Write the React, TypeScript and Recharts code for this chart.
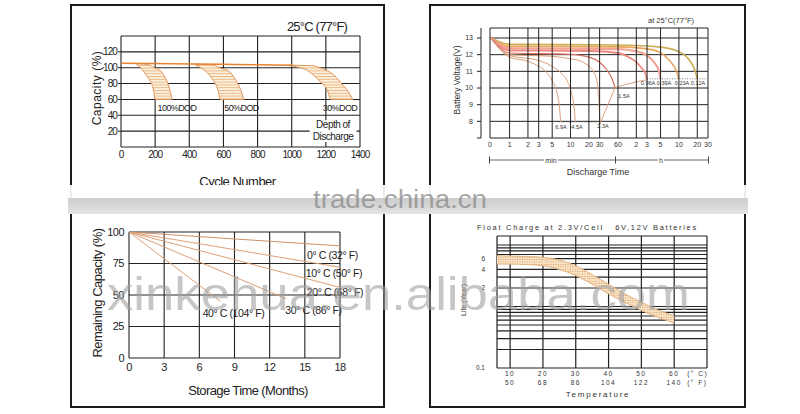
import React from 'react';
import { ComposedChart, Area, Line, XAxis, YAxis, CartesianGrid, ReferenceArea } from 'recharts';

// ---- chart 1: capacity vs cycle number ----
const cycleTicks = [0, 200, 400, 600, 800, 1000, 1200, 1400];
const capacityTicks = [20, 40, 60, 80, 100, 120];
const capacityGrid = [0, 20, 40, 60, 80, 100, 120, 140];
const topCapacity = [
  { cycle: 0, cap: 105.5 }, { cycle: 300, cap: 105 }, { cycle: 600, cap: 104.4 },
  { cycle: 800, cap: 103.8 }, { cycle: 1000, cap: 103 },
];
const dod100 = [
  { cycle: 90, range: [104.5, 105] }, { cycle: 110, range: [101, 105] }, { cycle: 130, range: [96, 104.8] },
  { cycle: 150, range: [90, 104.3] }, { cycle: 171, range: [83, 103] }, { cycle: 190, range: [72, 100.5] },
  { cycle: 200, range: [60, 99.5] }, { cycle: 220, range: [60, 98] }, { cycle: 240, range: [60, 94] },
  { cycle: 260, range: [60, 87] }, { cycle: 284, range: [60, 74] }, { cycle: 298, range: [60, 60] },
];
const dod50 = [
  { cycle: 430, range: [104.3, 104.6] }, { cycle: 470, range: [99.5, 104.2] }, { cycle: 504, range: [94, 104] },
  { cycle: 543, range: [83, 103.5] }, { cycle: 567, range: [72.5, 101] }, { cycle: 582, range: [60, 99.5] },
  { cycle: 622, range: [60, 97] }, { cycle: 671, range: [60, 85] }, { cycle: 700, range: [60, 72.5] },
  { cycle: 720, range: [60, 60] },
];
const dod30 = [
  { cycle: 980, range: [103, 103.3] }, { cycle: 1040, range: [100.5, 103] }, { cycle: 1092, range: [96.5, 102.8] },
  { cycle: 1131, range: [90, 102.3] }, { cycle: 1171, range: [81.5, 99.5] }, { cycle: 1210, range: [71, 96] },
  { cycle: 1229, range: [60, 93.8] }, { cycle: 1260, range: [60, 88] }, { cycle: 1288, range: [60, 81] },
  { cycle: 1337, range: [60, 68] }, { cycle: 1357, range: [60, 60] },
];

// ---- chart 2: discharge curves ----
const timeTicks = [0.477, 1, 2, 3, 5, 10, 20, 30, 60, 120, 180, 300, 600, 1200, 1800];
const voltTicks = [7, 8, 9, 10, 11, 12, 13];
const voltGrid = [7, 8, 9, 10, 11, 12, 13, 13.6];
const amp69 = [{ t: 0.477, v: 13.05 }, { t: 1, v: 11.85 }, { t: 2, v: 11.6 }, { t: 3, v: 11.3 }, { t: 4, v: 10.95 }, { t: 5, v: 10.45 }, { t: 6, v: 9.7 }, { t: 6.6, v: 8.8 }, { t: 6.9, v: 7.95 }];
const amp45 = [{ t: 0.477, v: 13.05 }, { t: 1, v: 11.95 }, { t: 3, v: 11.65 }, { t: 5, v: 11.3 }, { t: 7, v: 10.9 }, { t: 9, v: 10.35 }, { t: 10.5, v: 9.6 }, { t: 11.5, v: 8.8 }, { t: 12, v: 7.95 }];
const amp23 = [{ t: 0.477, v: 13.05 }, { t: 1, v: 12.0 }, { t: 5, v: 11.9 }, { t: 10, v: 11.75 }, { t: 15, v: 11.6 }, { t: 20, v: 11.3 }, { t: 24, v: 10.95 }, { t: 27, v: 10.45 }, { t: 29, v: 9.3 }, { t: 30.6, v: 7.85 }];
const amp15 = [{ t: 0.477, v: 13.05 }, { t: 1, v: 12.1 }, { t: 10, v: 12.02 }, { t: 20, v: 11.85 }, { t: 30, v: 11.55 }, { t: 40, v: 11.05 }, { t: 48, v: 10.55 }, { t: 54, v: 10.0 }];
const amp096 = [{ t: 0.477, v: 13.05 }, { t: 1, v: 12.25 }, { t: 20, v: 12.22 }, { t: 60, v: 12.1 }, { t: 90, v: 11.85 }, { t: 120, v: 11.55 }, { t: 150, v: 11.15 }, { t: 170, v: 10.85 }, { t: 180, v: 10.5 }];
const amp039 = [{ t: 0.477, v: 13.05 }, { t: 1, v: 12.38 }, { t: 60, v: 12.33 }, { t: 120, v: 12.2 }, { t: 180, v: 11.95 }, { t: 240, v: 11.5 }, { t: 280, v: 11.05 }, { t: 300, v: 10.55 }];
const amp023 = [{ t: 0.477, v: 13.05 }, { t: 1, v: 12.5 }, { t: 60, v: 12.47 }, { t: 180, v: 12.35 }, { t: 300, v: 12.12 }, { t: 420, v: 11.65 }, { t: 540, v: 11.05 }, { t: 600, v: 10.55 }];
const amp012 = [{ t: 0.477, v: 13.05 }, { t: 1, v: 12.62 }, { t: 60, v: 12.58 }, { t: 300, v: 12.45 }, { t: 600, v: 12.18 }, { t: 900, v: 11.65 }, { t: 1100, v: 11.05 }, { t: 1200, v: 10.55 }];
const finalVoltage = [{ t: 30.6, v: 7.85 }, { t: 35, v: 8.4 }, { t: 40, v: 8.9 }, { t: 47, v: 9.5 }, { t: 54, v: 10.0 }, { t: 70, v: 10.15 }, { t: 100, v: 10.3 }, { t: 140, v: 10.42 }, { t: 180, v: 10.5 }];
const cutoffHigh = [{ t: 180, v: 10.55 }, { t: 1750, v: 10.55 }];
const cutoffLow = [{ t: 6.4, v: 7.97 }, { t: 30, v: 7.97 }];

// ---- chart 3: storage ----
const storageTicks = [0, 3, 6, 9, 12, 15, 18];
const remainingTicks = [0, 25, 50, 75, 100];
const store0 = [{ m: 0, c: 100 }, { m: 18, c: 89 }];
const store10 = [{ m: 0, c: 100 }, { m: 18, c: 72 }];
const store20 = [{ m: 0, c: 100 }, { m: 18, c: 56 }];
const store30 = [{ m: 0, c: 100 }, { m: 13.4, c: 47 }];
const store40 = [{ m: 0, c: 100 }, { m: 7.8, c: 45 }];

// ---- chart 4: float life ----
const tempTicksC = [10, 20, 30, 40, 50, 60];
const tempTicksF = [50, 68, 86, 104, 122, 140];
const tempGrid = [6, 10, 20, 30, 40, 50, 60, 70];
const lifeTicks = [0.1, 2, 4, 6];
const lifeGrid = [0.1, 0.2, 0.3, 0.4, 0.5, 0.6, 0.7, 0.8, 0.9, 1, 2, 3, 4, 5, 6, 7, 8, 9, 10, 14];
const lifeBand = [
  { temp: 6, range: [4.9, 6.7] }, { temp: 10, range: [4.9, 6.6] }, { temp: 15, range: [4.8, 6.5] },
  { temp: 20, range: [4.6, 6.3] }, { temp: 25, range: [4.0, 5.7] }, { temp: 30, range: [3.2, 4.6] },
  { temp: 35, range: [2.3, 3.3] }, { temp: 40, range: [1.6, 2.3] }, { temp: 45, range: [1.17, 1.6] },
  { temp: 50, range: [0.86, 1.17] }, { temp: 55, range: [0.67, 0.88] }, { temp: 60, range: [0.54, 0.71] },
];

const ink = '#222';
const PLOT2_H = 110; // plot height of the discharge chart (180 - 18 - 30 - 22)

const T = ({ x, y, s, ls, rot, color, children }: any) => (
  <div
    style={{
      position: 'absolute', left: x, top: y, fontSize: s, lineHeight: 1, whiteSpace: 'nowrap',
      letterSpacing: ls, color: color || ink,
      transform: `translate(-50%,-50%)${rot ? ' rotate(-90deg)' : ''}`,
    }}
  >
    {children}
  </div>
);

const fmtTime = (v: number) => (v < 1 ? '0' : v >= 120 ? String(v / 60) : String(v));

// time tick: label plus the vertical grid line at the same (log-scaled) x
const TimeTick = (props: any) => {
  const { x, y, payload } = props;
  const base = y - 3;
  return (
    <g>
      <line x1={x} y1={base - PLOT2_H} x2={x} y2={base} stroke={ink} strokeWidth={1} />
      <text x={x} y={y + 5.5} textAnchor="middle" fontSize={7} fill="#333">{fmtTime(payload.value)}</text>
    </g>
  );
};

const TempTick = (props: any) => {
  const { x, y, payload } = props;
  const f = tempTicksF[tempTicksC.indexOf(payload.value)];
  const st = { fontSize: 6.5, letterSpacing: 1.5, fill: '#333' };
  return (
    <g>
      <text x={x} y={y + 8.3} textAnchor="middle" {...st}>{payload.value}</text>
      <text x={x} y={y + 17.3} textAnchor="middle" {...st}>{f}</text>
      {payload.value === 60 && (
        <>
          <text x={x + 13} y={y + 8.3} {...st}>(° C)</text>
          <text x={x + 13} y={y + 17.3} {...st}>(° F)</text>
        </>
      )}
    </g>
  );
};

function CycleChart() {
  const tick = { fontSize: 10, fill: ink, letterSpacing: -0.9 };
  return (
    <div style={{ position: 'absolute', left: 80, top: 20 }}>
      <ComposedChart width={300} height={175} margin={{ top: 16, right: 20, bottom: 0, left: 0 }}>
        <defs>
          <pattern id="hatch" width="4" height="2.8" patternUnits="userSpaceOnUse">
            <rect width="4" height="2.8" fill="#fdf0dc" />
            <line x1="0" y1="0.4" x2="4" y2="0.4" stroke="#e2a56a" strokeWidth="0.8" />
          </pattern>
        </defs>
        <CartesianGrid stroke={ink} strokeWidth={1.1} horizontalValues={capacityGrid} verticalValues={cycleTicks} />
        <XAxis type="number" dataKey="cycle" domain={[0, 1400]} ticks={cycleTicks} interval={0} allowDataOverflow
          axisLine={false} tickLine={false} tickSize={2} tickMargin={2} height={48} tick={tick} />
        <YAxis type="number" domain={[0, 140]} ticks={capacityTicks} interval={0} allowDataOverflow
          axisLine={false} tickLine={{ stroke: ink }} tickSize={3} tickMargin={1} width={41} tick={tick} />
        <ReferenceArea x1={1105} x2={1380} y1={6.3} y2={34} fill="#fff" fillOpacity={1} stroke="none" />
        <Area data={dod100} dataKey="range" type="monotone" fill="url(#hatch)" fillOpacity={1} stroke="#e0955a" strokeWidth={1} isAnimationActive={false} />
        <Area data={dod50} dataKey="range" type="monotone" fill="url(#hatch)" fillOpacity={1} stroke="#e0955a" strokeWidth={1} isAnimationActive={false} />
        <Area data={dod30} dataKey="range" type="monotone" fill="url(#hatch)" fillOpacity={1} stroke="#e0955a" strokeWidth={1} isAnimationActive={false} />
        <Line data={topCapacity} dataKey="cap" type="monotone" stroke="#e8822e" strokeWidth={1.5} dot={false} isAnimationActive={false} />
      </ComposedChart>
    </div>
  );
}

function DischargeChart() {
  const line = (data: any[], color: string, w: number) => (
    <Line data={data} dataKey="v" xAxisId="main" yAxisId="v" type="monotone" stroke={color} strokeWidth={w} dot={false} isAnimationActive={false} />
  );
  return (
    <div style={{ position: 'absolute', left: 430, top: 10 }}>
      <ComposedChart width={300} height={180} margin={{ top: 18, right: 22, bottom: 30, left: 0 }}>
        <CartesianGrid xAxisId="main" yAxisId="v" stroke={ink} strokeWidth={1} vertical={false} horizontalValues={voltGrid} />
        <XAxis xAxisId="main" type="number" dataKey="t" scale="log" domain={[0.477, 1800]} ticks={timeTicks} interval={0} allowDataOverflow
          axisLine={false} tickLine={false} tickSize={2} tickMargin={1} height={22} tick={<TimeTick />} />
        <YAxis yAxisId="gap" type="number" domain={[7, 13.6]} width={9} axisLine={false} tickLine={false} tick={false} />
        <YAxis yAxisId="v" type="number" domain={[7, 13.6]} ticks={voltTicks} interval={0} allowDataOverflow width={51}
          axisLine={{ stroke: ink }} tickLine={{ stroke: ink }} tickSize={4} tickMargin={4}
          tickFormatter={(v: number) => (v === 7 ? '' : String(v))} tick={{ fontSize: 7, fill: '#333' }} />
        {line(amp012, '#c9ad56', 1.6)}
        {line(amp023, '#e9a65d', 1.6)}
        {line(amp039, '#f4a596', 2.2)}
        {line(amp096, '#ec8a80', 1.8)}
        {line(amp15, '#d9725f', 1.2)}
        {line(amp23, '#d9a07c', 1)}
        {line(amp45, '#d9a07c', 1)}
        {line(amp69, '#d9a07c', 1)}
        {line(finalVoltage, '#d9a07c', 1)}
        <Line data={cutoffHigh} dataKey="v" xAxisId="main" yAxisId="v" stroke="#555" strokeWidth={0.8} strokeDasharray="1 1.5" dot={false} isAnimationActive={false} />
        <Line data={cutoffLow} dataKey="v" xAxisId="main" yAxisId="v" stroke="#555" strokeWidth={0.8} strokeDasharray="1 1.5" dot={false} isAnimationActive={false} />
      </ComposedChart>
    </div>
  );
}

function StorageChart() {
  const tick = { fontSize: 11, fill: ink, letterSpacing: -0.5 };
  const line = (data: any[], color: string) => (
    <Line data={data} dataKey="c" type="linear" stroke={color} strokeWidth={1} dot={false} isAnimationActive={false} />
  );
  return (
    <div style={{ position: 'absolute', left: 80, top: 222 }}>
      <ComposedChart width={300} height={185} margin={{ top: 10, right: 40, bottom: 0, left: 0 }}>
        <CartesianGrid stroke={ink} strokeWidth={1.1} horizontalValues={remainingTicks} verticalValues={storageTicks} />
        <XAxis type="number" dataKey="m" domain={[0, 18]} ticks={storageTicks} interval={0} allowDataOverflow
          axisLine={false} tickLine={false} tickSize={0} tickMargin={5} height={49} tick={tick} />
        <YAxis type="number" domain={[0, 100]} ticks={remainingTicks} interval={0} allowDataOverflow
          axisLine={false} tickLine={false} tickSize={0} tickMargin={5} width={49} tick={tick} />
        {line(store0, '#cf9068')}
        {line(store10, '#dc9f78')}
        {line(store20, '#dc9f78')}
        {line(store30, '#dc9f78')}
        {line(store40, '#dc9f78')}
      </ComposedChart>
    </div>
  );
}

function LifeChart() {
  return (
    <div style={{ position: 'absolute', left: 430, top: 220 }}>
      <ComposedChart width={300} height={185} margin={{ top: 16, right: 23, bottom: 0, left: 0 }}>
        <defs>
          <pattern id="dots" width="2.4" height="2.4" patternUnits="userSpaceOnUse">
            <rect width="2.4" height="2.4" fill="#fbe6c8" />
            <circle cx="1.2" cy="1.2" r="0.65" fill="#d49a66" />
          </pattern>
        </defs>
        <CartesianGrid stroke={ink} strokeWidth={1.2} horizontalValues={lifeGrid} verticalValues={tempGrid} />
        <XAxis type="number" dataKey="temp" domain={[6, 70]} ticks={tempTicksC} interval={0} allowDataOverflow
          axisLine={false} tickLine={false} tickSize={0} tickMargin={0} height={37} tick={<TempTick />} />
        <YAxis type="number" scale="log" domain={[0.1, 14]} ticks={lifeTicks} interval={0} allowDataOverflow
          axisLine={false} tickLine={false} tickSize={0} tickMargin={12} width={67}
          tick={{ fontSize: 6.5, fill: '#333' }} />
        <Area data={lifeBand} dataKey="range" type="monotone" fill="url(#dots)" fillOpacity={1} stroke="#e2b27e" strokeWidth={1} isAnimationActive={false} />
      </ComposedChart>
    </div>
  );
}

export default function App() {
  const box = { position: 'absolute' as const, top: 4, height: 404, border: '2px solid #1a1a1a', boxSizing: 'border-box' as const };
  return (
    <div style={{ position: 'relative', width: 800, height: 414, background: '#fff', overflow: 'hidden', fontFamily: '"Liberation Sans", Arial, sans-serif' }}>
      <style>{'body{margin:0}'}</style>
      <div style={{ ...box, left: 70, width: 315 }} />
      <div style={{ ...box, left: 429, width: 317 }} />

      <CycleChart />
      <DischargeChart />
      <StorageChart />
      <LifeChart />

      {/* min / h ruler under the discharge time axis */}
      <svg width={800} height={414} style={{ position: 'absolute', left: 0, top: 0 }}>
        <g stroke="#444" strokeWidth={0.8}>
          <line x1={489} y1={160} x2={544} y2={160} />
          <line x1={558} y1={160} x2={658} y2={160} />
          <line x1={664} y1={160} x2={708} y2={160} />
          <line x1={489.5} y1={156.5} x2={489.5} y2={163.5} strokeWidth={1} />
          <line x1={615.5} y1={156.5} x2={615.5} y2={163.5} strokeWidth={1} />
          <line x1={708.5} y1={156.5} x2={708.5} y2={163.5} strokeWidth={1} />
        </g>
        <text x={551} y={162.5} textAnchor="middle" fontSize={7} fill="#333" fontFamily='"Liberation Sans", Arial, sans-serif'>min</text>
        <text x={661} y={162.5} textAnchor="middle" fontSize={7} fill="#333" fontFamily='"Liberation Sans", Arial, sans-serif'>h</text>
      </svg>

      {/* chart 1 text */}
      <T x={317} y={26} s={13} ls={-0.8}>25°C (77°F)</T>
      <T x={97} y={88} s={12} ls={0.5} rot>Capacity (%)</T>
      <T x={177} y={108} s={9} ls={-0.6}>100%DOD</T>
      <T x={241.5} y={108} s={9} ls={-0.6}>50%DOD</T>
      <T x={340} y={108} s={9} ls={-0.6}>30%DOD</T>
      <T x={333} y={125} s={10} ls={-0.5}>Depth of</T>
      <T x={333} y={137} s={10} ls={-0.5}>Discharge</T>
      <T x={237.5} y={181} s={13} ls={-0.5}>Cycle Number</T>

      {/* chart 2 text */}
      <T x={671} y={21} s={7.5} color="#333">at 25°C(77°F)</T>
      <T x={457} y={80} s={8.5} color="#333" rot>Battery Voltage(V)</T>
      <T x={598} y={172} s={9} color="#333">Discharge Time</T>
      <T x={561} y={128} s={5.5} color="#333">6.9A</T>
      <T x={577} y={128} s={5.5} color="#333">4.5A</T>
      <T x={603} y={127} s={5.5} color="#333">2.3A</T>
      <T x={624} y={97} s={5.5} color="#333">1.5A</T>
      <T x={648} y={84} s={5.5} color="#333">0.96A</T>
      <T x={664} y={84} s={5.5} color="#333">0.39A</T>
      <T x={682} y={84} s={5.5} color="#333">0.23A</T>
      <T x={698} y={84} s={5.5} color="#333">0.12A</T>

      {/* chart 3 text */}
      <T x={97} y={293} s={13} ls={-0.5} rot>Remaining Capacity (%)</T>
      <T x={248} y={390} s={13} ls={-0.6}>Storage Time (Months)</T>
      <T x={332.5} y={255} s={10.5} ls={-0.4}>0° C (32° F)</T>
      <T x={334} y={273} s={10.5} ls={-0.4}>10° C (50° F)</T>
      <T x={335} y={292} s={10.5} ls={-0.4}>20° C (68° F)</T>
      <T x={313.5} y={310} s={10.5} ls={-0.4}>30° C (86° F)</T>
      <T x={233.5} y={313} s={10.5} ls={-0.4}>40° C (104° F)</T>

      {/* chart 4 text */}
      <T x={587.5} y={228} s={7.5} ls={1.7} color="#333">Float Charge at 2.3V/Cell&nbsp;&nbsp;&nbsp;6V,12V Batteries</T>
      <T x={463} y={300} s={7} color="#333" rot>Life (Year)</T>
      <T x={598} y={395} s={8} ls={1.8} color="#333">Temperature</T>

      {/* scan band between rows */}
      <div style={{ position: 'absolute', left: 60, top: 185, width: 700, height: 13, background: 'rgba(255,255,255,0.92)' }} />
      <div style={{ position: 'absolute', left: 68, top: 198, width: 680, height: 16, background: 'linear-gradient(#cdcdcd, #d9d9d9 60%, #e6e6e6)' }} />

      {/* watermarks */}
      <svg width={800} height={414} style={{ position: 'absolute', left: 0, top: 0, pointerEvents: 'none' }}>
        <text x={313} y={208} fontSize={26} textLength={174} lengthAdjust="spacingAndGlyphs" fill="#8a8a8a" fillOpacity={0.75}
          fontFamily='"Liberation Sans", Arial, sans-serif'>trade.china.cn</text>
        <text x={107} y={310} fontSize={47} textLength={583} lengthAdjust="spacingAndGlyphs" fill="#a0a0a0" fillOpacity={0.6}
          fontFamily='"Liberation Sans", Arial, sans-serif'>xinkehua.en.alibaba.com</text>
      </svg>
    </div>
  );
}
